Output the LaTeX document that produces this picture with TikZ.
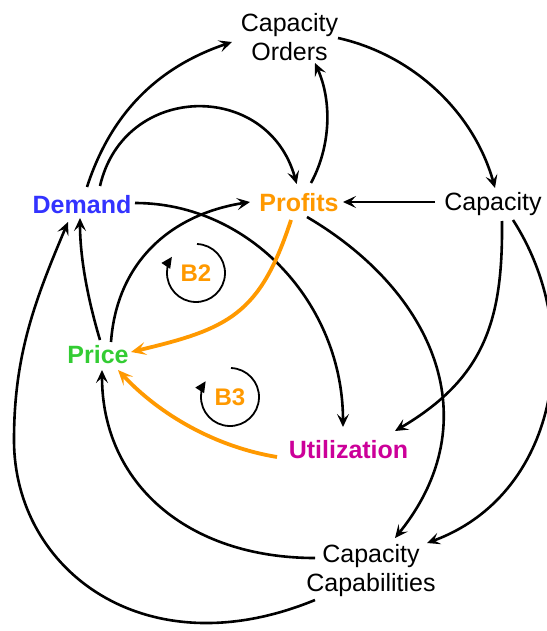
\documentclass[tikz,border=0pt]{standalone}
\usepackage{fontspec}
\setmainfont{Liberation Sans}
\usetikzlibrary{arrows.meta}
\definecolor{cblue}{HTML}{3333FF}
\definecolor{corange}{HTML}{FF9900}
\definecolor{cgreen}{HTML}{33CC33}
\definecolor{cmag}{HTML}{CC0099}
\begin{document}
\begin{tikzpicture}[x=1pt,y=-1pt,
  var/.style={inner sep=0pt, font=\fontsize{25}{29}\selectfont},
  bvar/.style={inner sep=0pt, font=\fontsize{25}{29}\selectfont\bfseries},
  link/.style={line width=2.6pt, -{Stealth[length=13pt,width=12pt,inset=5.5pt]}},
  olink/.style={line width=3.8pt, draw=corange, -{Stealth[length=15pt,width=13pt,inset=6.5pt]}},
  loopc/.style={line width=1.8pt, -{Triangle[length=11pt,width=10pt]}},
  looplab/.style={font=\fontsize{24}{28}\selectfont\bfseries, text=corange, inner sep=0pt}]
\useasboundingbox (0,0) rectangle (546,631);

% variables
\node[bvar, text=cblue, anchor=base] (Dem) at (82,213) {Demand};
\node[bvar, text=corange, anchor=base] (Prof) at (299,211) {Profits};
\node[var, anchor=base] (Cap) at (493,210) {Capacity};
\node[bvar, text=cgreen, anchor=base] (Price) at (98,363) {Price};
\node[bvar, text=cmag, anchor=base] (Util) at (348.5,458) {Utilization};
\node[var, align=center] (CO) at (289.5,37.5) {Capacity\\Orders};
\node[var, align=center] (CC) at (371,571) {Capacity\\Capabilities};
\node[looplab] (B2) at (196,273) {B2};
\node[looplab] (B3) at (230,397) {B3};

% loop markers
\draw[loopc] ([shift={(-88:29)}]B2.center) arc[start angle=-88, end angle=214, radius=29];
\draw[loopc] ([shift={(-88:29)}]B3.center) arc[start angle=-88, end angle=213, radius=29];

% black links
\draw[link] ([shift={(5,-26)}]Dem.base) .. controls +(24,-74) and +(-74,25) .. ([shift={(-57.5,4.5)}]CO.center);
\draw[link] ([shift={(18,-27)}]Dem.base) .. controls +(24,-104) and +(-28.7,-104) .. ([shift={(-2.3,-27)}]Prof.base);
\draw[link] ([shift={(12,-28)}]Prof.base) .. controls +(20,-37) and +(17,38) .. ([shift={(25.5,25.5)}]CO.center);
\draw[link] ([shift={(48.5,0.5)}]CO.center) .. controls +(76,17) and +(-21,-75) .. ([shift={(2,-22)}]Cap.base);
\draw[link] ([shift={(-58,-8)}]Cap.base) -- ([shift={(44,-9)}]Prof.base);
\draw[link] ([shift={(53,-10)}]Dem.base) .. controls +(115,0) and +(0,-123) .. ([shift={(-5.5,-31)}]Util.base);
\draw[link] ([shift={(13,-21)}]Price.base) .. controls +(6,-82) and +(-77,12) .. ([shift={(-49,-9)}]Prof.base);
\draw[link] ([shift={(2,-23)}]Price.base) .. controls +(-12,-40) and +(0,40) .. ([shift={(-2,5)}]Dem.base);
\draw[link] ([shift={(-56,29)}]CC.center) .. controls +(-170,70) and +(0,130) .. (14,440) .. controls +(0,-85) and +(-33,78) .. ([shift={(-14,9)}]Dem.base);
\draw[link] ([shift={(-56,-13)}]CC.center) .. controls +(-128,0) and +(0,113) .. ([shift={(4,7)}]Price.base);
\draw[link] ([shift={(8,6)}]Prof.base) .. controls +(127.5,75) and +(94.5,-117) .. ([shift={(24,-33)}]CC.center);
\draw[link] ([shift={(9,11)}]Cap.base) .. controls +(1,99) and +(90,-53) .. ([shift={(46.5,-27)}]Util.base);
\draw[link] ([shift={(20,10)}]Cap.base) .. controls +(74,115) and +(129,-47) .. ([shift={(56,-28)}]CC.center);

% orange links
\draw[olink] ([shift={(-8,9)}]Prof.base) .. controls +(-31,95) and +(97,-23) .. ([shift={(33,-11)}]Price.base);
\draw[olink] ([shift={(-71.5,-1)}]Util.base) .. controls +(-61,-10) and +(42,45) .. ([shift={(20,7)}]Price.base);
\end{tikzpicture}
\end{document}
